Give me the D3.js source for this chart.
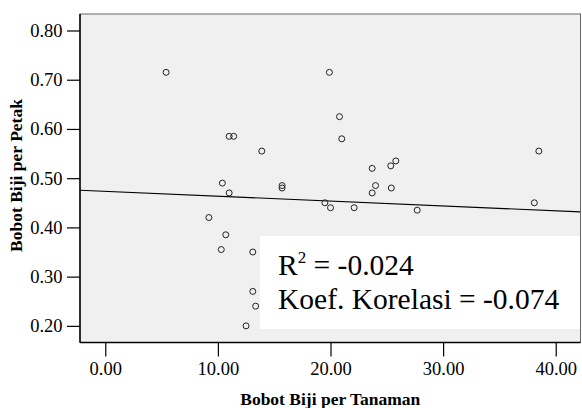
<!DOCTYPE html>
<html>
<head>
<meta charset="utf-8" />
<script src="https://cdn.jsdelivr.net/npm/d3@7"></script>
<style>
  body { margin: 0; background: #fff; }
  svg { display: block; }
</style>
</head>
<body>
<script>
"use strict";

// values
var tanaman = [5.4, 11.0, 11.4, 13.9, 10.4, 11.0, 9.2, 10.7, 10.3, 13.1,
  13.1, 13.35, 12.5, 15.7, 15.7, 19.9, 20.8, 21.0, 19.5, 20.0,
  22.1, 23.7, 24.0, 23.7, 25.35, 25.8, 25.4, 27.7, 38.5, 38.1];
var petak = [0.715, 0.585, 0.585, 0.555, 0.49, 0.47, 0.42, 0.385, 0.355, 0.35,
  0.27, 0.24, 0.20, 0.485, 0.48, 0.715, 0.625, 0.58, 0.45, 0.44,
  0.44, 0.52, 0.485, 0.47, 0.525, 0.535, 0.48, 0.435, 0.555, 0.45];
var xTicks = [0, 10, 20, 30, 40];
var yTicks = [0.2, 0.3, 0.4, 0.5, 0.6, 0.7, 0.8];
var fitIntercept = 0.4733, fitSlope = -0.00099;
var rSquared = "-0.024", korelasi = "-0.074";

var serif = "'Liberation Serif', 'Times New Roman', Times, serif";
var W = 582, H = 408;
var pL = 80, pR = 580.5, pT = 14, pB = 342.5;

var x = d3.scaleLinear().domain([-2.245, 42.2]).range([pL, pR]);
var y = d3.scaleLinear().domain([0.1662, 0.8335]).range([pB, pT]);

var svg = d3.select("body").append("svg").attr("width", W).attr("height", H)
  .style("font-family", serif);

svg.append("rect")
  .attr("x", pL).attr("y", pT)
  .attr("width", pR - pL).attr("height", pB - pT)
  .attr("fill", "#f0f0f0");

// regression line
var x0 = x.domain()[0], x1 = x.domain()[1];
svg.append("line")
  .attr("x1", x(x0)).attr("y1", y(fitIntercept + fitSlope * x0))
  .attr("x2", x(x1)).attr("y2", y(fitIntercept + fitSlope * x1))
  .attr("stroke", "#000").attr("stroke-width", 1.2);

// points
svg.append("g").selectAll("circle")
  .data(tanaman.map(function(v, i) { return [v, petak[i]]; }))
  .join("circle")
  .attr("cx", function(d) { return x(d[0]); })
  .attr("cy", function(d) { return y(d[1]); })
  .attr("r", 3)
  .attr("fill", "none")
  .attr("stroke", "#222")
  .attr("stroke-width", 1);

// stats box
svg.append("rect")
  .attr("x", 260).attr("y", 236)
  .attr("width", pR - 260).attr("height", 93)
  .attr("fill", "#fff");

var t1 = svg.append("text").attr("x", 278).attr("y", 275)
  .style("font-family", serif).style("font-size", "29.5px");
t1.append("tspan").text("R");
t1.append("tspan").attr("dy", -12).style("font-size", "17px").text("2");
t1.append("tspan").attr("dy", 12).text(" = " + rSquared);
svg.append("text").attr("x", 278).attr("y", 309)
  .style("font-family", serif).style("font-size", "29.5px")
  .text("Koef. Korelasi = " + korelasi);

// frame
svg.append("rect")
  .attr("x", pL).attr("y", pT)
  .attr("width", pR - pL).attr("height", pB - pT)
  .attr("fill", "none").attr("stroke", "#666").attr("stroke-width", 1);

// axes
var xAxis = svg.append("g")
  .attr("transform", "translate(0," + pB + ")")
  .call(d3.axisBottom(x).tickValues(xTicks).tickSize(14).tickPadding(5).tickFormat(d3.format(".2f")));
xAxis.attr("font-family", serif).attr("font-size", 18.5);
xAxis.select(".domain").attr("stroke", "#000").attr("stroke-width", 1.5).attr("d", "M" + pL + ",0H" + pR);
xAxis.selectAll(".tick line").attr("stroke", "#000").attr("stroke-width", 1.2);

var yAxis = svg.append("g")
  .attr("transform", "translate(" + pL + ",0)")
  .call(d3.axisLeft(y).tickValues(yTicks).tickSize(13).tickPadding(4.5).tickFormat(d3.format(".2f")));
yAxis.attr("font-family", serif).attr("font-size", 18.5);
yAxis.select(".domain").attr("stroke", "#000").attr("stroke-width", 1.5).attr("d", "M0," + pT + "V" + pB);
yAxis.selectAll(".tick line").attr("stroke", "#000").attr("stroke-width", 1.2);

// titles
svg.append("text")
  .attr("x", (pL + pR) / 2).attr("y", 405)
  .attr("text-anchor", "middle")
  .style("font-family", serif).style("font-size", "17.5px").style("font-weight", "bold")
  .text("Bobot Biji per Tanaman");

svg.append("text")
  .attr("transform", "translate(22,175.5) rotate(-90)")
  .attr("text-anchor", "middle")
  .style("font-family", serif).style("font-size", "17.5px").style("font-weight", "bold")
  .text("Bobot Biji per Petak");
</script>
</body>
</html>
